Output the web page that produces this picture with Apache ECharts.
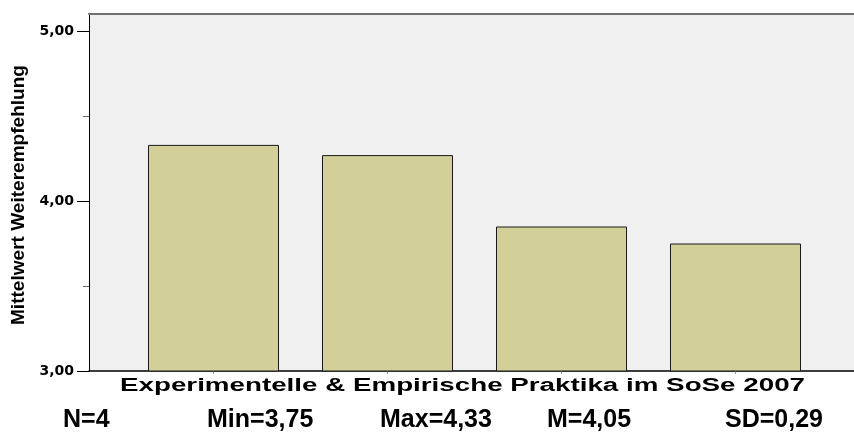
<!DOCTYPE html>
<html>
<head>
<meta charset="utf-8">
<script src="https://cdn.jsdelivr.net/npm/echarts@6/dist/echarts.min.js"></script>
<style>
  html, body { margin: 0; padding: 0; background: #fff; }
  #chart { width: 854px; height: 433px; }
</style>
</head>
<body>
<div id="chart"></div>
<script>
// data
const categories = ['Praktikum 1', 'Praktikum 2', 'Praktikum 3', 'Praktikum 4'];
const meanValues = [4.33, 4.27, 3.85, 3.75];
const statLabels = ['N=4', 'Min=3,75', 'Max=4,33', 'M=4,05', 'SD=0,29'];
const yTitle = 'Mittelwert Weiterempfehlung';
const xTitle = 'Experimentelle & Empirische Praktika im SoSe 2007';

// layout
const statLeft = [63, 207, 380, 547, 725];

// the original titles are stretched, so fit them to their measured widths
const ctx = document.createElement('canvas').getContext('2d');
const fit = (text, font, w) => {
  ctx.font = font;
  return w / ctx.measureText(text).width;
};

const yFont = 'bold 18px "Liberation Sans", Arial, sans-serif';
const xFont = 'bold 18px "Liberation Sans", Arial, sans-serif';
const statFont = 'bold 25px "Liberation Sans", Arial, sans-serif';

const chart = echarts.init(document.getElementById('chart'));
chart.setOption({
  animation: false,
  backgroundColor: '#fff',
  grid: [
    // plot background
    { left: 89, right: 0, top: 14, bottom: 62, show: true, backgroundColor: '#f0f0f0', borderWidth: 0 },
    // bars
    { left: 126.5, right: 31.5, top: 31, bottom: 62 },
  ],
  xAxis: [
    {
      gridIndex: 0, type: 'value', min: 0, max: 1, position: 'bottom',
      axisLine: { lineStyle: { color: '#000', width: 1.5 } },
      axisTick: { show: false }, axisLabel: { show: false }, splitLine: { show: false },
    },
    {
      gridIndex: 1, type: 'category', data: categories,
      axisLine: { show: false },
      axisTick: { show: true, alignWithLabel: true, length: 3, lineStyle: { color: '#999' } },
      axisLabel: { show: false },
    },
    {
      gridIndex: 0, type: 'value', min: 0, max: 1, position: 'top',
      axisLine: { lineStyle: { color: '#707070', width: 2 } },
      axisTick: { show: false }, axisLabel: { show: false }, splitLine: { show: false },
    },
  ],
  yAxis: [
    {
      gridIndex: 0, type: 'value', min: 0, max: 1,
      axisLine: { show: true, lineStyle: { color: '#000', width: 1 } },
      axisTick: { show: false }, axisLabel: { show: false }, splitLine: { show: false },
    },
    {
      gridIndex: 1, type: 'value', min: 3, max: 5, interval: 1, offset: 37.5,
      axisLine: { show: false },
      axisTick: { show: true, length: 12, lineStyle: { color: '#000', width: 1 } },
      minorTick: { show: true, splitNumber: 2, length: 6, lineStyle: { color: '#666' } },
      axisLabel: {
        margin: 15, color: '#000', fontFamily: 'DejaVu Sans', fontWeight: 'bold', fontSize: 14,
        formatter: (v) => v.toFixed(2).replace('.', ','),
      },
      splitLine: { show: false },
    },
  ],
  series: [
    {
      type: 'bar',
      xAxisIndex: 1,
      yAxisIndex: 1,
      data: meanValues,
      barWidth: 131,
      itemStyle: { color: '#d3cf99', borderColor: '#1a1a1a', borderWidth: 1 },
    },
  ],
  graphic: [
    {
      type: 'text', x: 19.5, y: 195, rotation: Math.PI / 2,
      scaleX: fit(yTitle, yFont, 260),
      style: { text: yTitle, font: yFont, fill: '#000', align: 'center', verticalAlign: 'middle' },
    },
    {
      type: 'text', x: 462.5, y: 386.5,
      scaleX: fit(xTitle, xFont, 685),
      style: { text: xTitle, font: xFont, fill: '#000', align: 'center', verticalAlign: 'middle' },
    },
    ...statLabels.map((s, i) => ({
      type: 'text', x: statLeft[i], y: 420,
      style: { text: s, font: statFont, fill: '#000', align: 'left', verticalAlign: 'middle' },
    })),
  ],
});
</script>
</body>
</html>
